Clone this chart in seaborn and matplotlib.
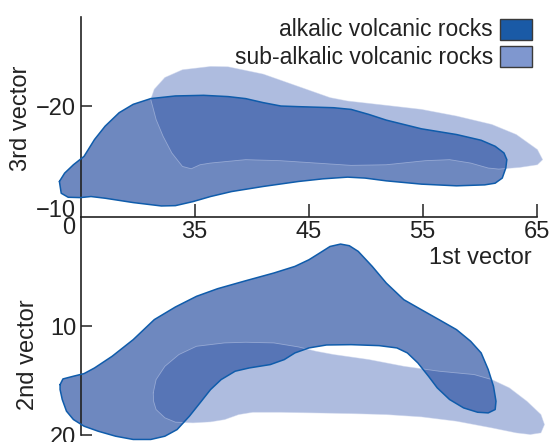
import numpy as np
import pandas as pd
import matplotlib
matplotlib.use("Agg")
import matplotlib.pyplot as plt
import matplotlib.transforms as mtransforms
import seaborn as sns
from matplotlib.patches import Rectangle

# ---------------- data ----------------
# Top panel: 1st vector (x) vs 3rd vector (y)
top_alk_x = [23.15, 23.31, 23.92, 25.00, 25.92, 27.16, 29.62, 32.09, 33.32, 34.86, 36.40, 38.25,
             41.02, 44.11, 46.26, 48.42, 49.96, 51.81, 54.89, 57.97, 60.44, 61.36, 61.98, 62.29,
             62.38, 62.13, 61.36, 60.13, 57.97, 54.89, 53.35, 51.81, 50.27, 48.73, 47.19, 44.11,
             42.57, 41.02, 39.48, 37.94, 35.79, 33.32, 31.16, 29.62, 28.39, 27.16, 26.23, 25.31,
             24.38, 23.61]
top_alk_y = [-12.88, -11.77, -11.39, -11.36, -11.46, -11.30, -10.89, -10.57, -10.60, -10.98, -11.46, -11.93,
             -12.41, -12.88, -13.13, -13.29, -13.20, -12.94, -12.63, -12.47, -12.56, -12.72, -13.20, -14.15,
             -14.94, -15.57, -16.20, -16.77, -17.31, -17.85, -18.26, -18.67, -19.21, -19.68, -19.84, -19.94,
             -20.00, -20.32, -20.70, -20.89, -21.01, -20.95, -20.70, -20.16, -19.37, -18.10, -16.84, -15.25,
             -14.46, -13.67]

top_sub_x = [31.16, 31.47, 32.40, 33.94, 36.40, 37.94, 41.02, 44.11, 46.88, 48.42, 51.81, 54.89,
             57.97, 61.06, 63.21, 65.06, 65.52, 65.06, 63.52, 61.67, 60.75, 59.21, 57.36, 55.20,
             51.81, 48.73, 45.65, 42.57, 39.48, 36.40, 35.48, 34.71, 33.94, 33.01, 32.24, 31.63,
             31.32]
top_sub_y = [-20.63, -21.58, -22.69, -23.42, -23.73, -23.70, -23.01, -21.84, -20.79, -20.47, -20.06, -19.68,
             -19.05, -18.26, -17.31, -15.89, -14.94, -14.46, -14.21, -14.05, -14.15, -14.62, -14.94, -14.84,
             -14.46, -14.40, -14.62, -14.84, -14.94, -14.62, -14.46, -14.08, -14.30, -15.57, -17.15, -18.73,
             -20.00]

# Bottom panel: 1st vector (x) vs 2nd vector (y)
bot_alk_x = [23.21, 23.46, 24.38, 25.31, 26.23, 27.77, 29.62, 31.47, 33.32, 35.17, 37.02, 39.48,
             41.95, 43.80, 45.03, 45.96, 46.88, 47.80, 48.57, 49.35, 50.58, 51.81, 53.35, 54.89,
             56.43, 57.97, 59.21, 60.13, 60.75, 61.21, 61.43, 61.36, 60.75, 59.82, 58.59, 57.36,
             56.28, 55.51, 54.58, 53.66, 52.74, 51.19, 48.73, 46.57, 45.03, 43.80, 42.87, 41.64,
             39.79, 38.56, 37.33, 36.40, 35.48, 34.55, 33.47, 32.40, 31.16, 29.62, 28.08, 26.54,
             25.31, 24.38, 23.77, 23.40, 23.21]
bot_alk_y = [15.37, 14.85, 14.60, 14.36, 13.84, 12.77, 11.24, 9.40, 8.24, 7.26, 6.56, 5.83,
             5.12, 4.51, 3.90, 3.29, 2.68, 2.46, 2.61, 3.13, 4.51, 6.04, 7.57, 8.49,
             9.40, 10.32, 11.39, 12.46, 13.99, 15.52, 16.90, 17.66, 17.97, 17.91, 17.51, 16.74,
             15.67, 14.60, 13.38, 12.46, 12.00, 11.79, 11.70, 11.73, 12.00, 12.46, 13.07, 13.53,
             13.84, 14.14, 14.91, 15.83, 17.05, 18.27, 19.50, 20.11, 20.41, 20.41, 20.11, 19.65,
             19.19, 18.58, 17.81, 16.74, 15.83]

bot_sub_x = [31.38, 31.63, 32.40, 33.63, 35.17, 37.64, 39.48, 41.95, 44.11, 45.65, 47.19, 50.27,
             53.35, 56.43, 59.52, 61.06, 62.60, 64.14, 65.37, 65.68, 65.37, 64.44, 63.21, 61.06,
             57.97, 54.89, 51.81, 48.73, 45.65, 42.57, 40.10, 38.87, 37.64, 36.40, 34.86, 33.32,
             32.40, 31.63, 31.41]
bot_sub_y = [16.13, 14.91, 13.69, 12.61, 11.85, 11.54, 11.48, 11.54, 11.91, 12.31, 12.61, 13.07,
             13.69, 14.14, 14.45, 14.91, 15.67, 16.90, 18.12, 19.04, 19.80, 19.95, 19.80, 19.34,
             18.73, 18.33, 18.12, 18.03, 17.97, 17.91, 17.91, 18.12, 18.58, 18.79, 18.88, 18.82,
             18.42, 17.66, 16.90]

legend_labels = ["alkalic volcanic rocks", "sub-alkalic volcanic rocks"]
x_ticks = [35, 45, 55, 65]
x_tick_labels = ["35", "45", "55", "65"]
top_y_ticks = [-20, -10]
top_y_tick_labels = ["\u221220", "\u221210"]
bot_y_ticks = [10, 20]
bot_y_tick_labels = ["10", "20"]

# ---------------- style ----------------
ALK_LEG = "#1a5aa6"
SUB_LEG = "#7f97cf"
ALK_FILL = "#365aa7"
SUB_FILL = "#aebcdf"
EDGE = "#0f5cab"
INK = "#222222"
FS = 17
FS_LEG = 16.5

sns.set_theme(style="white")
plt.rcParams["font.family"] = ["Liberation Sans", "DejaVu Sans"]

W, H = 549, 442
fig = plt.figure(figsize=(W / 100, H / 100), dpi=100)

left = 80.5 / W
width = (536.7 - 80.5) / W
ax_top = fig.add_axes([left, 1 - 217.3 / H, width, (217.3 - 17) / H])
ax_bot = fig.add_axes([left, 1 - 435 / H, width, (435 - 217.3) / H])


def draw(ax, sx, sy, axx, axy):
    ax.fill(sx, sy, color=SUB_FILL, lw=0, clip_on=False, zorder=1)
    ax.fill(axx, axy, color=ALK_FILL, alpha=0.72, lw=0, clip_on=False, zorder=2)
    ax.plot(list(sx) + [sx[0]], list(sy) + [sy[0]], color="#c8d2ec", lw=0.6,
            alpha=0.5, clip_on=False, zorder=2.5)
    df = pd.DataFrame({"x": list(axx) + [axx[0]], "y": list(axy) + [axy[0]]})
    sns.lineplot(data=df, x="x", y="y", sort=False, estimator=None, color=EDGE,
                 lw=1.1, ax=ax, clip_on=False, zorder=3)


draw(ax_top, top_sub_x, top_sub_y, top_alk_x, top_alk_y)
draw(ax_bot, bot_sub_x, bot_sub_y, bot_alk_x, bot_alk_y)

for ax in (ax_top, ax_bot):
    ax.patch.set_alpha(0)
    ax.set_xlim(25, 65)
    ax.set_xlabel("")
    ax.set_ylabel("")
    for s in ("top", "right"):
        ax.spines[s].set_visible(False)
    ax.spines["left"].set_color(INK)
    ax.spines["left"].set_linewidth(1.2)

ax_top.set_ylim(-9.5, -28.4)
ax_bot.set_ylim(20, 0)

ax_top.spines["bottom"].set_color(INK)
ax_top.spines["bottom"].set_linewidth(1.2)
ax_bot.spines["bottom"].set_visible(False)

ax_top.set_xticks(x_ticks)
ax_top.set_xticklabels(x_tick_labels)
ax_top.tick_params(axis="x", bottom=True, direction="in", length=9.5, width=1.1,
                   color=INK, labelsize=FS, labelcolor=INK, pad=2.5)
ax_top.set_yticks(top_y_ticks)
ax_top.set_yticklabels(top_y_tick_labels)
ax_top.tick_params(axis="y", left=True, direction="in", length=8, width=1.1,
                   color=INK, labelsize=FS, labelcolor=INK, pad=3)
ax_top.yaxis.get_major_ticks()[1].tick1line.set_visible(False)
lab10 = ax_top.get_yticklabels()[1]
lab10.set_transform(lab10.get_transform() +
                    mtransforms.ScaledTranslation(0, 2.5 / 72, fig.dpi_scale_trans))

ax_bot.set_xticks([])
ax_bot.set_yticks(bot_y_ticks)
ax_bot.set_yticklabels(bot_y_tick_labels)
ax_bot.tick_params(axis="y", left=True, direction="in", length=8, width=1.1,
                   color=INK, labelsize=FS, labelcolor=INK, pad=3)

# axis titles and origin label
fig.text(21 / W, 1 - 118 / H, "3rd vector", rotation=90, ha="center", va="center",
         fontsize=FS, color=INK)
fig.text(28 / W, 1 - 355 / H, "2nd vector", rotation=90, ha="center", va="center",
         fontsize=FS, color=INK)
fig.text(480 / W, 1 - 258 / H, "1st vector", ha="center", va="center",
         fontsize=FS, color=INK)
fig.text(69 / W, 1 - 228 / H, "0", ha="center", va="center", fontsize=FS, color=INK)

# legend
for i, (lab, col) in enumerate(zip(legend_labels, [ALK_LEG, SUB_LEG])):
    base = 36 + 28.3 * i
    fig.text(493 / W, 1 - base / H, lab, ha="right", va="baseline", fontsize=FS_LEG, color=INK)
    top_px = 19 + 26.7 * i
    fig.patches.append(Rectangle((500 / W, 1 - (top_px + 21) / H), 32 / W, 21 / H,
                                 transform=fig.transFigure, facecolor=col,
                                 edgecolor="#3a3a3a", lw=1.0, figure=fig))

fig.savefig("out.png", dpi=100)
